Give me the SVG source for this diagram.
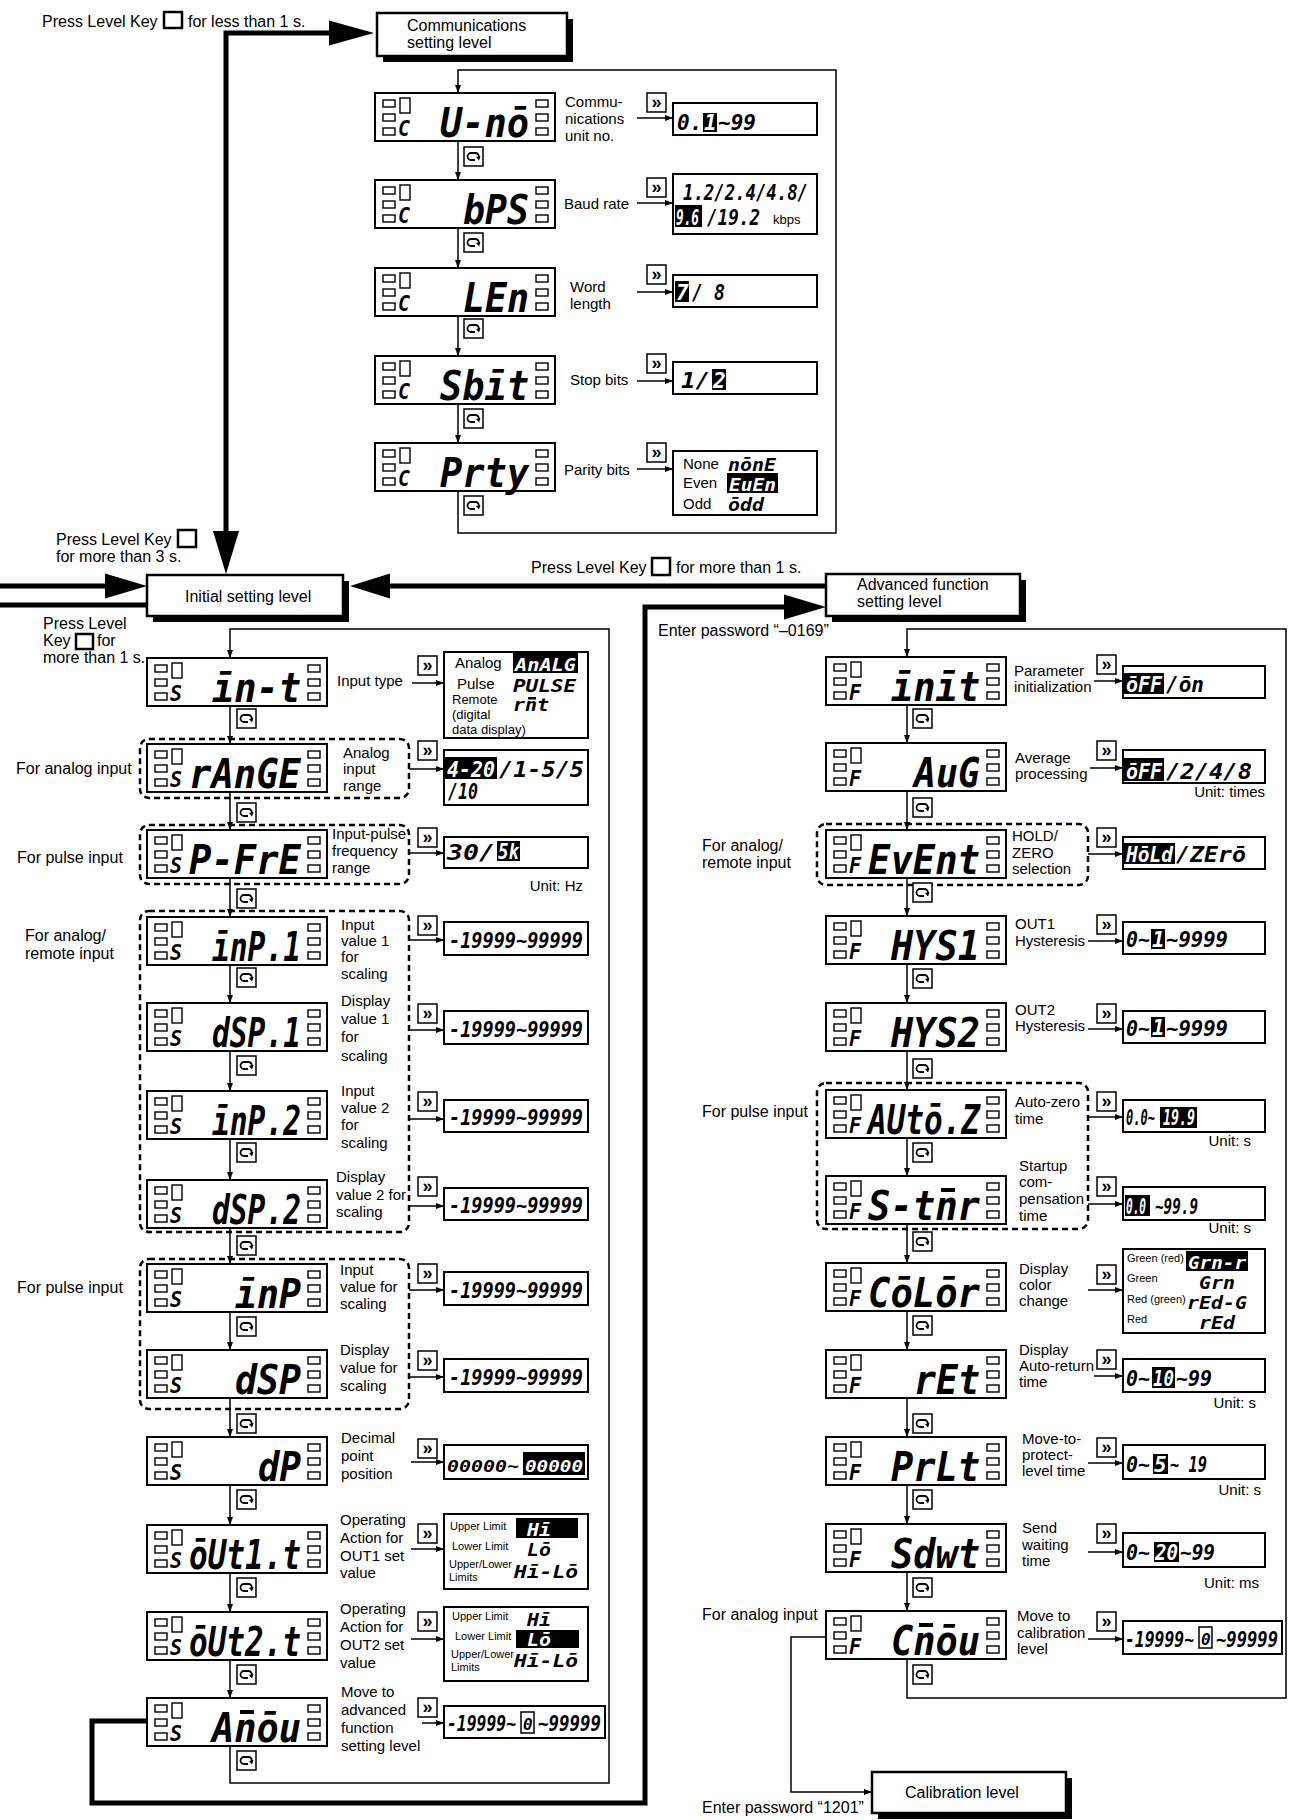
<svg xmlns="http://www.w3.org/2000/svg" xmlns:xlink="http://www.w3.org/1999/xlink" width="1289" height="1820" viewBox="0 0 1289 1820">
<style>
.t{font-family:"Liberation Sans",Arial,sans-serif;font-size:15px;fill:#000}
.tb{font-size:16px}
.sm{font-size:11px}
.md{font-size:13px}
.seg{font-family:"DejaVu Sans Mono",monospace;font-weight:bold;font-style:oblique;font-size:40px;fill:#000}
.slot{font-family:"DejaVu Sans Mono",monospace;font-weight:bold;font-style:oblique;font-size:21px;fill:#000}
.v{font-family:"DejaVu Sans Mono",monospace;font-weight:bold;font-style:oblique;font-size:21px;fill:#000}
.vs{font-size:18px}
.w{fill:#fff}
.ln{fill:none;stroke:#000;stroke-width:1.5}
.th{fill:none;stroke:#000;stroke-width:5}
.dg{fill:none;stroke:#000;stroke-width:2.5;stroke-dasharray:6 4}
.bx{fill:#fff;stroke:#000;stroke-width:2}
.lvl{fill:#fff;stroke:#000;stroke-width:2.5}
.key{fill:none;stroke:#000;stroke-width:2.5}
</style>
<defs>
<marker id="ah" viewBox="0 0 8 6" refX="8" refY="3" markerWidth="8" markerHeight="6" markerUnits="userSpaceOnUse" orient="auto"><path d="M0,0 L8,3 L0,6 Z" fill="#000"/></marker>
<g id="disp">
<rect x="0" y="0" width="180" height="48" fill="#fff" stroke="#000" stroke-width="2"/>
<g fill="none" stroke="#000" stroke-width="1.4">
<rect x="8" y="7" width="12" height="7"/><rect x="8" y="21" width="12" height="7"/><rect x="8" y="35" width="12" height="7"/>
<rect x="25" y="5" width="10" height="15"/>
<rect x="161" y="7" width="12" height="7"/><rect x="161" y="21" width="12" height="7"/><rect x="161" y="35" width="12" height="7"/>
</g></g>
<g id="rot"><rect x="0" y="0" width="19" height="19" fill="#fff" stroke="#000" stroke-width="1.5"/><path d="M11,13 H7 A3.5,3.5 0 0 1 7,6 H12 A3.5,3.5 0 0 1 14.5,11" fill="none" stroke="#000" stroke-width="1.8"/><path d="M12,10 L15,13.5 L16.5,9 Z" fill="#000"/></g>
<g id="ff"><rect x="0" y="0" width="19" height="19" fill="#fff" stroke="#000" stroke-width="1.5"/><text x="9.5" y="15" text-anchor="middle" style="font-family:'Liberation Sans',Arial,sans-serif;font-weight:bold;font-size:18px">»</text></g>
</defs>
<rect width="1289" height="1820" fill="#fff"/>

<!-- connectors -->
<g id="connectors">
<path class="th" d="M226,531 V33 H330"/>
<polygon points="374,33 329,20.5 329,45.5"/>
<polygon points="226,574 213,531 239,531"/>
<path class="th" d="M0,586 H106"/>
<polygon points="147,586 105,573.5 105,598.5"/>
<path class="th" d="M0,605 H147"/>
<path class="th" d="M826,586 H389"/>
<polygon points="350,586 390,573.5 390,598.5"/>
<path class="th" d="M147,1721 H92 V1803 H645 V607 H785"/>
<polygon points="826,607 784,594.5 784,619.5"/>
<path class="ln" d="M458,491 V533 H836 V70 H458 V93" marker-end="url(#ah)"/>
<path class="ln" d="M458,141 V180" marker-end="url(#ah)"/>
<path class="ln" d="M458,228 V268" marker-end="url(#ah)"/>
<path class="ln" d="M458,316 V356" marker-end="url(#ah)"/>
<path class="ln" d="M458,404 V443" marker-end="url(#ah)"/>
<path class="ln" d="M637,118 H673" marker-end="url(#ah)"/>
<path class="ln" d="M637,203 H673" marker-end="url(#ah)"/>
<path class="ln" d="M637,292 H673" marker-end="url(#ah)"/>
<path class="ln" d="M637,381 H673" marker-end="url(#ah)"/>
<path class="ln" d="M637,469 H673" marker-end="url(#ah)"/>
<path class="ln" d="M230,1746 V1783 H609 V629 H230 V658" marker-end="url(#ah)"/>
<path class="ln" d="M230,706 V744" marker-end="url(#ah)"/>
<path class="ln" d="M230,792 V830" marker-end="url(#ah)"/>
<path class="ln" d="M230,878 V917" marker-end="url(#ah)"/>
<path class="ln" d="M230,965 V1003" marker-end="url(#ah)"/>
<path class="ln" d="M230,1051 V1091" marker-end="url(#ah)"/>
<path class="ln" d="M230,1139 V1180" marker-end="url(#ah)"/>
<path class="ln" d="M230,1228 V1264" marker-end="url(#ah)"/>
<path class="ln" d="M230,1312 V1350" marker-end="url(#ah)"/>
<path class="ln" d="M230,1398 V1437" marker-end="url(#ah)"/>
<path class="ln" d="M230,1485 V1525" marker-end="url(#ah)"/>
<path class="ln" d="M230,1573 V1612" marker-end="url(#ah)"/>
<path class="ln" d="M230,1660 V1698" marker-end="url(#ah)"/>
<path class="ln" d="M412,683 H444" marker-end="url(#ah)"/>
<path class="ln" d="M409,769 H444" marker-end="url(#ah)"/>
<path class="ln" d="M409,853 H444" marker-end="url(#ah)"/>
<path class="ln" d="M409,940 H444" marker-end="url(#ah)"/>
<path class="ln" d="M409,1030 H444" marker-end="url(#ah)"/>
<path class="ln" d="M409,1119 H444" marker-end="url(#ah)"/>
<path class="ln" d="M409,1206 H444" marker-end="url(#ah)"/>
<path class="ln" d="M409,1290 H444" marker-end="url(#ah)"/>
<path class="ln" d="M409,1377 H444" marker-end="url(#ah)"/>
<path class="ln" d="M411,1462 H444" marker-end="url(#ah)"/>
<path class="ln" d="M411,1549 H444" marker-end="url(#ah)"/>
<path class="ln" d="M411,1639 H444" marker-end="url(#ah)"/>
<path class="ln" d="M422,1723 H444" marker-end="url(#ah)"/>
<path class="ln" d="M907,1659 V1698 H1286 V629 H907 V657" marker-end="url(#ah)"/>
<path class="ln" d="M907,705 V743" marker-end="url(#ah)"/>
<path class="ln" d="M907,791 V830" marker-end="url(#ah)"/>
<path class="ln" d="M907,878 V916" marker-end="url(#ah)"/>
<path class="ln" d="M907,964 V1003" marker-end="url(#ah)"/>
<path class="ln" d="M907,1051 V1090" marker-end="url(#ah)"/>
<path class="ln" d="M907,1138 V1176" marker-end="url(#ah)"/>
<path class="ln" d="M907,1224 V1263" marker-end="url(#ah)"/>
<path class="ln" d="M907,1311 V1350" marker-end="url(#ah)"/>
<path class="ln" d="M907,1398 V1437" marker-end="url(#ah)"/>
<path class="ln" d="M907,1485 V1524" marker-end="url(#ah)"/>
<path class="ln" d="M907,1572 V1611" marker-end="url(#ah)"/>
<path class="ln" d="M1094,681 H1123" marker-end="url(#ah)"/>
<path class="ln" d="M1090,768 H1123" marker-end="url(#ah)"/>
<path class="ln" d="M1088,854 H1123" marker-end="url(#ah)"/>
<path class="ln" d="M1088,941 H1123" marker-end="url(#ah)"/>
<path class="ln" d="M1088,1029 H1123" marker-end="url(#ah)"/>
<path class="ln" d="M1088,1117 H1123" marker-end="url(#ah)"/>
<path class="ln" d="M1088,1204 H1123" marker-end="url(#ah)"/>
<path class="ln" d="M1088,1290 H1123" marker-end="url(#ah)"/>
<path class="ln" d="M1094,1376 H1123" marker-end="url(#ah)"/>
<path class="ln" d="M1088,1463 H1123" marker-end="url(#ah)"/>
<path class="ln" d="M1088,1552 H1123" marker-end="url(#ah)"/>
<path class="ln" d="M1088,1639 H1123" marker-end="url(#ah)"/>
<path class="ln" stroke-width="2" d="M826,1637 H791 V1792 H872" marker-end="url(#ah)"/>
</g>

<!-- notes -->
<g id="notes">
<text class="t tb" x="42" y="27">Press Level Key</text><rect class="key" x="164" y="12" width="18" height="16"/><text class="t tb" x="188" y="27">for less than 1 s.</text>
<text class="t tb" x="56" y="545">Press Level Key</text><rect class="key" x="178" y="530" width="18" height="17"/><text class="t tb" x="56" y="562">for more than 3 s.</text>
<text class="t tb" x="531" y="573">Press Level Key</text><rect class="key" x="652" y="558" width="18" height="17"/><text class="t tb" x="676" y="573">for more than 1 s.</text>
<text class="t tb" x="43" y="629">Press Level</text><text class="t tb" x="43" y="646">Key</text><rect class="key" x="76" y="634" width="17" height="15"/><text class="t tb" x="97" y="646">for</text><text class="t tb" x="43" y="663">more than 1 s.</text>
<text class="t tb" x="16" y="774">For analog input</text>
<text class="t tb" x="17" y="863">For pulse input</text>
<text class="t tb" x="25" y="941">For analog/</text><text class="t tb" x="25" y="959">remote input</text>
<text class="t tb" x="17" y="1293">For pulse input</text>
<text class="t tb" x="658" y="636">Enter password “–0169”</text>
<text class="t tb" x="702" y="851">For analog/</text><text class="t tb" x="702" y="868">remote input</text>
<text class="t tb" x="702" y="1117">For pulse input</text>
<text class="t tb" x="702" y="1620">For analog input</text>
<text class="t tb" x="702" y="1813">Enter password “1201”</text>
</g>

<!-- level boxes -->
<g id="lvl-comm"><rect x="383" y="19" width="190" height="43"/><rect class="lvl" x="377" y="13" width="190" height="43"/><text class="t tb" x="407" y="31">Communications</text><text class="t tb" x="407" y="48">setting level</text></g>
<g id="lvl-init"><rect x="153" y="581" width="196" height="41"/><rect class="lvl" x="147" y="575" width="196" height="41"/><text class="t tb" x="185" y="602">Initial setting level</text></g>
<g id="lvl-adv"><rect x="832" y="580" width="194" height="42"/><rect class="lvl" x="826" y="574" width="194" height="42"/><text class="t tb" x="857" y="590">Advanced function</text><text class="t tb" x="857" y="607">setting level</text></g>
<g id="lvl-cal"><rect x="878" y="1778" width="194" height="41"/><rect class="lvl" x="872" y="1772" width="194" height="41"/><text class="t tb" x="905" y="1798">Calibration level</text></g>

<!-- dashed groups -->
<g id="groups">
<rect class="dg" x="140" y="739" width="269" height="59" rx="9"/>
<rect class="dg" x="140" y="825" width="269" height="59" rx="9"/>
<rect class="dg" x="140" y="911" width="269" height="321" rx="9"/>
<rect class="dg" x="140" y="1259" width="269" height="150" rx="9"/>
<rect class="dg" x="817" y="824" width="271" height="61" rx="9"/>
<rect class="dg" x="817" y="1083" width="271" height="146" rx="9"/>
</g>

<!-- communications displays -->
<g id="d-uno"><use href="#disp" x="375" y="93"/><text class="slot" x="398" y="136" textLength="12" lengthAdjust="spacingAndGlyphs">C</text><text class="seg" x="440" y="137" textLength="89" lengthAdjust="spacingAndGlyphs">U-nō</text><use href="#rot" x="464" y="147"/><text class="t" x="565" y="107">Commu-</text><text class="t" x="565" y="124">nications</text><text class="t" x="565" y="141">unit no.</text></g>
<g id="d-bps"><use href="#disp" x="375" y="180"/><text class="slot" x="398" y="223" textLength="12" lengthAdjust="spacingAndGlyphs">C</text><text class="seg" x="463" y="224" textLength="66" lengthAdjust="spacingAndGlyphs">bPS</text><use href="#rot" x="464" y="233"/><text class="t" x="564" y="209">Baud rate</text></g>
<g id="d-len"><use href="#disp" x="375" y="268"/><text class="slot" x="398" y="311" textLength="12" lengthAdjust="spacingAndGlyphs">C</text><text class="seg" x="463" y="312" textLength="66" lengthAdjust="spacingAndGlyphs">LEn</text><use href="#rot" x="464" y="319"/><text class="t" x="570" y="292">Word</text><text class="t" x="570" y="309">length</text></g>
<g id="d-sbit"><use href="#disp" x="375" y="356"/><text class="slot" x="398" y="399" textLength="12" lengthAdjust="spacingAndGlyphs">C</text><text class="seg" x="440" y="400" textLength="89" lengthAdjust="spacingAndGlyphs">Sbīt</text><use href="#rot" x="464" y="409"/><text class="t" x="570" y="385">Stop bits</text></g>
<g id="d-prty"><use href="#disp" x="375" y="443"/><text class="slot" x="398" y="486" textLength="12" lengthAdjust="spacingAndGlyphs">C</text><text class="seg" x="440" y="487" textLength="89" lengthAdjust="spacingAndGlyphs">Prty</text><use href="#rot" x="464" y="496"/><text class="t" x="564" y="475">Parity bits</text></g>

<!-- communications values -->
<g id="v-uno"><use href="#ff" x="647" y="93"/><rect class="bx" x="673" y="103" width="144" height="32"/><text class="v" x="677" y="130">0.</text><rect x="703" y="113" width="14" height="19"/><text class="v w" x="704" y="130">1</text><text class="v" x="718" y="130">~99</text></g>
<g id="v-bps"><use href="#ff" x="647" y="178"/><rect class="bx" x="673" y="174" width="144" height="60"/><text class="v" x="683" y="200" textLength="125" lengthAdjust="spacingAndGlyphs">1.2/2.4/4.8/</text><rect x="675" y="205" width="27" height="22"/><text class="v w" x="676" y="225" textLength="23" lengthAdjust="spacingAndGlyphs">9.6</text><text class="v" x="707" y="225" textLength="53" lengthAdjust="spacingAndGlyphs">/19.2</text><text class="t md" x="773" y="224">kbps</text></g>
<g id="v-len"><use href="#ff" x="647" y="265"/><rect class="bx" x="673" y="275" width="144" height="32"/><rect x="675" y="281" width="14" height="21"/><text class="v w" x="676" y="300">7</text><text class="v" x="692" y="300" textLength="33" lengthAdjust="spacingAndGlyphs">/ 8</text></g>
<g id="v-sbit"><use href="#ff" x="647" y="354"/><rect class="bx" x="673" y="362" width="144" height="32"/><text class="v" x="681" y="388" textLength="29" lengthAdjust="spacingAndGlyphs">1/</text><rect x="712" y="369" width="14" height="21"/><text class="v w" x="713" y="388">2</text></g>
<g id="v-prty"><use href="#ff" x="647" y="443"/><rect class="bx" x="673" y="451" width="144" height="64"/><text class="t" x="683" y="469">None</text><text class="t" x="683" y="488">Even</text><text class="t" x="683" y="509">Odd</text><text class="v vs" x="728" y="471" textLength="48" lengthAdjust="spacingAndGlyphs">nōnE</text><rect x="727" y="473" width="51" height="20"/><text class="v vs w" x="729" y="491" textLength="47" lengthAdjust="spacingAndGlyphs">EuEn</text><text class="v vs" x="728" y="511" textLength="36" lengthAdjust="spacingAndGlyphs">ōdd</text></g>

<!-- initial setting displays -->
<g id="d-int"><use href="#disp" x="147" y="658"/><text class="slot" x="170" y="701" textLength="12" lengthAdjust="spacingAndGlyphs">S</text><text class="seg" x="212" y="702" textLength="89" lengthAdjust="spacingAndGlyphs">īn-t</text><use href="#rot" x="237" y="709"/><text class="t" x="337" y="686">Input type</text></g>
<g id="d-range"><use href="#disp" x="147" y="744"/><text class="slot" x="170" y="787" textLength="12" lengthAdjust="spacingAndGlyphs">S</text><text class="seg" x="189" y="788" textLength="112" lengthAdjust="spacingAndGlyphs">rAnGE</text><use href="#rot" x="237" y="803"/><text class="t" x="343" y="758">Analog</text><text class="t" x="343" y="774">input</text><text class="t" x="343" y="791">range</text></g>
<g id="d-pfre"><use href="#disp" x="147" y="830"/><text class="slot" x="170" y="873" textLength="12" lengthAdjust="spacingAndGlyphs">S</text><text class="seg" x="189" y="874" textLength="112" lengthAdjust="spacingAndGlyphs">P-FrE</text><use href="#rot" x="237" y="889"/><text class="t" x="332" y="839">Input-pulse</text><text class="t" x="332" y="856">frequency</text><text class="t" x="332" y="873">range</text></g>
<g id="d-inp1"><use href="#disp" x="147" y="917"/><text class="slot" x="170" y="960" textLength="12" lengthAdjust="spacingAndGlyphs">S</text><text class="seg" x="212" y="961" textLength="89" lengthAdjust="spacingAndGlyphs">īnP.1</text><use href="#rot" x="237" y="968"/><text class="t" x="341" y="930">Input</text><text class="t" x="341" y="946">value 1</text><text class="t" x="341" y="962">for</text><text class="t" x="341" y="979">scaling</text></g>
<g id="d-dsp1"><use href="#disp" x="147" y="1003"/><text class="slot" x="170" y="1046" textLength="12" lengthAdjust="spacingAndGlyphs">S</text><text class="seg" x="212" y="1047" textLength="89" lengthAdjust="spacingAndGlyphs">dSP.1</text><use href="#rot" x="237" y="1056"/><text class="t" x="341" y="1006">Display</text><text class="t" x="341" y="1024">value 1</text><text class="t" x="341" y="1042">for</text><text class="t" x="341" y="1061">scaling</text></g>
<g id="d-inp2"><use href="#disp" x="147" y="1091"/><text class="slot" x="170" y="1134" textLength="12" lengthAdjust="spacingAndGlyphs">S</text><text class="seg" x="212" y="1135" textLength="89" lengthAdjust="spacingAndGlyphs">īnP.2</text><use href="#rot" x="237" y="1143"/><text class="t" x="341" y="1096">Input</text><text class="t" x="341" y="1113">value 2</text><text class="t" x="341" y="1130">for</text><text class="t" x="341" y="1148">scaling</text></g>
<g id="d-dsp2"><use href="#disp" x="147" y="1180"/><text class="slot" x="170" y="1223" textLength="12" lengthAdjust="spacingAndGlyphs">S</text><text class="seg" x="212" y="1224" textLength="89" lengthAdjust="spacingAndGlyphs">dSP.2</text><use href="#rot" x="237" y="1236"/><text class="t" x="336" y="1182">Display</text><text class="t" x="336" y="1200">value 2 for</text><text class="t" x="336" y="1217">scaling</text></g>
<g id="d-inp"><use href="#disp" x="147" y="1264"/><text class="slot" x="170" y="1307" textLength="12" lengthAdjust="spacingAndGlyphs">S</text><text class="seg" x="235" y="1308" textLength="66" lengthAdjust="spacingAndGlyphs">īnP</text><use href="#rot" x="237" y="1317"/><text class="t" x="340" y="1275">Input</text><text class="t" x="340" y="1292">value for</text><text class="t" x="340" y="1309">scaling</text></g>
<g id="d-dsp"><use href="#disp" x="147" y="1350"/><text class="slot" x="170" y="1393" textLength="12" lengthAdjust="spacingAndGlyphs">S</text><text class="seg" x="235" y="1394" textLength="66" lengthAdjust="spacingAndGlyphs">dSP</text><use href="#rot" x="237" y="1414"/><text class="t" x="340" y="1355">Display</text><text class="t" x="340" y="1373">value for</text><text class="t" x="340" y="1391">scaling</text></g>
<g id="d-dp"><use href="#disp" x="147" y="1437"/><text class="slot" x="170" y="1480" textLength="12" lengthAdjust="spacingAndGlyphs">S</text><text class="seg" x="258" y="1481" textLength="43" lengthAdjust="spacingAndGlyphs">dP</text><use href="#rot" x="237" y="1490"/><text class="t" x="341" y="1443">Decimal</text><text class="t" x="341" y="1461">point</text><text class="t" x="341" y="1479">position</text></g>
<g id="d-out1"><use href="#disp" x="147" y="1525"/><text class="slot" x="170" y="1568" textLength="12" lengthAdjust="spacingAndGlyphs">S</text><text class="seg" x="189" y="1569" textLength="112" lengthAdjust="spacingAndGlyphs">ōUt1.t</text><use href="#rot" x="237" y="1578"/><text class="t" x="340" y="1525">Operating</text><text class="t" x="340" y="1543">Action for</text><text class="t" x="340" y="1561">OUT1 set</text><text class="t" x="340" y="1578">value</text></g>
<g id="d-out2"><use href="#disp" x="147" y="1612"/><text class="slot" x="170" y="1655" textLength="12" lengthAdjust="spacingAndGlyphs">S</text><text class="seg" x="189" y="1656" textLength="112" lengthAdjust="spacingAndGlyphs">ōUt2.t</text><use href="#rot" x="237" y="1665"/><text class="t" x="340" y="1614">Operating</text><text class="t" x="340" y="1632">Action for</text><text class="t" x="340" y="1650">OUT2 set</text><text class="t" x="340" y="1668">value</text></g>
<g id="d-amov"><use href="#disp" x="147" y="1698"/><text class="slot" x="170" y="1741" textLength="12" lengthAdjust="spacingAndGlyphs">S</text><text class="seg" x="212" y="1742" textLength="89" lengthAdjust="spacingAndGlyphs">Anōu</text><rect x="240" y="1710" width="14" height="4"/><use href="#rot" x="237" y="1751"/><text class="t" x="341" y="1697">Move to</text><text class="t" x="341" y="1715">advanced</text><text class="t" x="341" y="1733">function</text><text class="t" x="341" y="1751">setting level</text></g>

<!-- initial setting values -->
<g id="v-int"><use href="#ff" x="418" y="656"/><rect class="bx" x="444" y="652" width="144" height="86"/><text class="t" x="455" y="668">Analog</text><text class="t" x="457" y="689">Pulse</text><text class="t md" x="452" y="704">Remote</text><text class="t md" x="452" y="719">(digital</text><text class="t md" x="452" y="734">data display)</text><rect x="513" y="653" width="65" height="20"/><text class="v vs w" x="515" y="671" textLength="61" lengthAdjust="spacingAndGlyphs">AnALG</text><text class="v vs" x="513" y="692" textLength="63" lengthAdjust="spacingAndGlyphs">PULSE</text><text class="v vs" x="513" y="711" textLength="36" lengthAdjust="spacingAndGlyphs">rnt</text><rect x="528" y="697" width="8" height="2.5"/></g>
<g id="v-range"><use href="#ff" x="418" y="741"/><rect class="bx" x="444" y="750" width="144" height="55"/><rect x="445" y="757" width="52" height="22"/><text class="v w" x="447" y="777" textLength="48" lengthAdjust="spacingAndGlyphs">4-20</text><text class="v" x="499" y="777" textLength="85" lengthAdjust="spacingAndGlyphs">/1-5/5</text><text class="v" x="448" y="799" textLength="30" lengthAdjust="spacingAndGlyphs">/10</text></g>
<g id="v-pfre"><use href="#ff" x="418" y="828"/><rect class="bx" x="444" y="837" width="144" height="31"/><text class="v" x="447" y="860" textLength="48" lengthAdjust="spacingAndGlyphs">30/</text><rect x="497" y="841" width="23" height="20"/><text class="v w" x="498" y="859" textLength="21" lengthAdjust="spacingAndGlyphs">5k</text><text class="t" x="583" y="891" text-anchor="end">Unit: Hz</text></g>
<g id="v-inp1"><use href="#ff" x="418" y="916"/><rect class="bx" x="444" y="922" width="144" height="33"/><text class="v" x="449" y="948" textLength="134" lengthAdjust="spacingAndGlyphs">-19999~99999</text></g>
<g id="v-dsp1"><use href="#ff" x="418" y="1004"/><rect class="bx" x="444" y="1011" width="144" height="33"/><text class="v" x="449" y="1037" textLength="134" lengthAdjust="spacingAndGlyphs">-19999~99999</text></g>
<g id="v-inp2"><use href="#ff" x="418" y="1092"/><rect class="bx" x="444" y="1100" width="144" height="32"/><text class="v" x="449" y="1125" textLength="134" lengthAdjust="spacingAndGlyphs">-19999~99999</text></g>
<g id="v-dsp2"><use href="#ff" x="418" y="1177"/><rect class="bx" x="444" y="1188" width="144" height="32"/><text class="v" x="449" y="1213" textLength="134" lengthAdjust="spacingAndGlyphs">-19999~99999</text></g>
<g id="v-inp"><use href="#ff" x="418" y="1264"/><rect class="bx" x="444" y="1272" width="144" height="33"/><text class="v" x="449" y="1298" textLength="134" lengthAdjust="spacingAndGlyphs">-19999~99999</text></g>
<g id="v-dsp"><use href="#ff" x="418" y="1351"/><rect class="bx" x="444" y="1359" width="144" height="33"/><text class="v" x="449" y="1385" textLength="134" lengthAdjust="spacingAndGlyphs">-19999~99999</text></g>
<g id="v-dp"><use href="#ff" x="418" y="1439"/><rect class="bx" x="444" y="1445" width="144" height="34"/><text class="v" x="447" y="1472" style="font-size:15px" textLength="72" lengthAdjust="spacingAndGlyphs">00000~</text><rect x="523" y="1452" width="62" height="23"/><text class="v w" x="525" y="1472" style="font-size:15px" textLength="58" lengthAdjust="spacingAndGlyphs">00000</text></g>
<g id="v-out1"><use href="#ff" x="418" y="1524"/><rect class="bx" x="444" y="1514" width="144" height="75"/><text class="t sm" x="450" y="1530">Upper Limit</text><text class="t sm" x="452" y="1550">Lower Limit</text><text class="t sm" x="449" y="1568">Upper/Lower</text><text class="t sm" x="449" y="1581">Limits</text><rect x="516" y="1518" width="62" height="20"/><text class="v vs w" x="527" y="1536" textLength="24" lengthAdjust="spacingAndGlyphs">Hī</text><text class="v vs" x="527" y="1556" textLength="24" lengthAdjust="spacingAndGlyphs">Lō</text><text class="v vs" x="514" y="1578" textLength="64" lengthAdjust="spacingAndGlyphs">Hī-Lō</text></g>
<g id="v-out2"><use href="#ff" x="418" y="1612"/><rect class="bx" x="444" y="1607" width="144" height="74"/><text class="t sm" x="452" y="1620">Upper Limit</text><text class="t sm" x="455" y="1640">Lower Limit</text><text class="t sm" x="451" y="1658">Upper/Lower</text><text class="t sm" x="451" y="1671">Limits</text><text class="v vs" x="527" y="1626" textLength="24" lengthAdjust="spacingAndGlyphs">Hī</text><rect x="516" y="1630" width="63" height="18"/><text class="v vs w" x="527" y="1646" textLength="24" lengthAdjust="spacingAndGlyphs">Lō</text><text class="v vs" x="514" y="1667" textLength="64" lengthAdjust="spacingAndGlyphs">Hī-Lō</text></g>
<g id="v-amov"><use href="#ff" x="418" y="1698"/><rect class="bx" x="444" y="1706" width="161" height="32"/><text class="v" x="447" y="1731" textLength="69" lengthAdjust="spacingAndGlyphs">-19999~</text><rect x="521" y="1712" width="13" height="21" fill="none" stroke="#000" stroke-width="1.5"/><text class="v" x="523" y="1730" style="font-size:16px">0</text><text class="v" x="538" y="1731" textLength="63" lengthAdjust="spacingAndGlyphs">~99999</text></g>

<!-- advanced displays -->
<g id="d-init"><use href="#disp" x="826" y="657"/><text class="slot" x="849" y="700" textLength="12" lengthAdjust="spacingAndGlyphs">F</text><text class="seg" x="891" y="701" textLength="89" lengthAdjust="spacingAndGlyphs">īnīt</text><use href="#rot" x="913" y="709"/><text class="t" x="1014" y="676">Parameter</text><text class="t" x="1014" y="692">initialization</text></g>
<g id="d-avg"><use href="#disp" x="826" y="743"/><text class="slot" x="849" y="786" textLength="12" lengthAdjust="spacingAndGlyphs">F</text><text class="seg" x="914" y="787" textLength="66" lengthAdjust="spacingAndGlyphs">AuG</text><use href="#rot" x="913" y="798"/><text class="t" x="1015" y="763">Average</text><text class="t" x="1015" y="779">processing</text></g>
<g id="d-event"><use href="#disp" x="826" y="830"/><text class="slot" x="849" y="873" textLength="12" lengthAdjust="spacingAndGlyphs">F</text><text class="seg" x="868" y="874" textLength="112" lengthAdjust="spacingAndGlyphs">EvEnt</text><use href="#rot" x="913" y="883"/><text class="t" x="1012" y="841">HOLD/</text><text class="t" x="1012" y="858">ZERO</text><text class="t" x="1012" y="874">selection</text></g>
<g id="d-hys1"><use href="#disp" x="826" y="916"/><text class="slot" x="849" y="959" textLength="12" lengthAdjust="spacingAndGlyphs">F</text><text class="seg" x="891" y="960" textLength="89" lengthAdjust="spacingAndGlyphs">HYS1</text><use href="#rot" x="913" y="969"/><text class="t" x="1015" y="929">OUT1</text><text class="t" x="1015" y="946">Hysteresis</text></g>
<g id="d-hys2"><use href="#disp" x="826" y="1003"/><text class="slot" x="849" y="1046" textLength="12" lengthAdjust="spacingAndGlyphs">F</text><text class="seg" x="891" y="1047" textLength="89" lengthAdjust="spacingAndGlyphs">HYS2</text><use href="#rot" x="913" y="1059"/><text class="t" x="1015" y="1015">OUT2</text><text class="t" x="1015" y="1031">Hysteresis</text></g>
<g id="d-autoz"><use href="#disp" x="826" y="1090"/><text class="slot" x="849" y="1133" textLength="12" lengthAdjust="spacingAndGlyphs">F</text><text class="seg" x="868" y="1134" textLength="112" lengthAdjust="spacingAndGlyphs">AUtō.Z</text><use href="#rot" x="913" y="1143"/><text class="t" x="1015" y="1107">Auto-zero</text><text class="t" x="1015" y="1124">time</text></g>
<g id="d-stmr"><use href="#disp" x="826" y="1176"/><text class="slot" x="849" y="1219" textLength="12" lengthAdjust="spacingAndGlyphs">F</text><text class="seg" x="868" y="1220" textLength="112" lengthAdjust="spacingAndGlyphs">S-tnr</text><rect x="941" y="1188" width="14" height="4"/><use href="#rot" x="913" y="1232"/><text class="t" x="1019" y="1171">Startup</text><text class="t" x="1019" y="1187">com-</text><text class="t" x="1019" y="1204">pensation</text><text class="t" x="1019" y="1221">time</text></g>
<g id="d-color"><use href="#disp" x="826" y="1263"/><text class="slot" x="849" y="1306" textLength="12" lengthAdjust="spacingAndGlyphs">F</text><text class="seg" x="868" y="1307" textLength="112" lengthAdjust="spacingAndGlyphs">CōLōr</text><use href="#rot" x="913" y="1316"/><text class="t" x="1019" y="1274">Display</text><text class="t" x="1019" y="1290">color</text><text class="t" x="1019" y="1306">change</text></g>
<g id="d-ret"><use href="#disp" x="826" y="1350"/><text class="slot" x="849" y="1393" textLength="12" lengthAdjust="spacingAndGlyphs">F</text><text class="seg" x="914" y="1394" textLength="66" lengthAdjust="spacingAndGlyphs">rEt</text><use href="#rot" x="913" y="1414"/><text class="t" x="1019" y="1355">Display</text><text class="t" x="1019" y="1371">Auto-return</text><text class="t" x="1019" y="1387">time</text></g>
<g id="d-prlt"><use href="#disp" x="826" y="1437"/><text class="slot" x="849" y="1480" textLength="12" lengthAdjust="spacingAndGlyphs">F</text><text class="seg" x="891" y="1481" textLength="89" lengthAdjust="spacingAndGlyphs">PrLt</text><use href="#rot" x="913" y="1490"/><text class="t" x="1022" y="1444">Move-to-</text><text class="t" x="1022" y="1460">protect-</text><text class="t" x="1022" y="1476">level time</text></g>
<g id="d-sdwt"><use href="#disp" x="826" y="1524"/><text class="slot" x="849" y="1567" textLength="12" lengthAdjust="spacingAndGlyphs">F</text><text class="seg" x="891" y="1568" textLength="89" lengthAdjust="spacingAndGlyphs">Sdwt</text><use href="#rot" x="913" y="1578"/><text class="t" x="1022" y="1533">Send</text><text class="t" x="1022" y="1550">waiting</text><text class="t" x="1022" y="1566">time</text></g>
<g id="d-cmov"><use href="#disp" x="826" y="1611"/><text class="slot" x="849" y="1654" textLength="12" lengthAdjust="spacingAndGlyphs">F</text><text class="seg" x="891" y="1655" textLength="89" lengthAdjust="spacingAndGlyphs">Cnōu</text><rect x="919" y="1623" width="14" height="4"/><use href="#rot" x="913" y="1665"/><text class="t" x="1017" y="1621">Move to</text><text class="t" x="1017" y="1638">calibration</text><text class="t" x="1017" y="1654">level</text></g>

<!-- advanced values -->
<g id="v-init"><use href="#ff" x="1097" y="655"/><rect class="bx" x="1123" y="666" width="142" height="32"/><rect x="1124" y="673" width="40" height="21"/><text class="v w" x="1126" y="692" textLength="36" lengthAdjust="spacingAndGlyphs">ōFF</text><text class="v" x="1166" y="692" textLength="38" lengthAdjust="spacingAndGlyphs">/ōn</text></g>
<g id="v-avg"><use href="#ff" x="1097" y="741"/><rect class="bx" x="1123" y="750" width="142" height="33"/><rect x="1124" y="758" width="40" height="23"/><text class="v w" x="1126" y="779" textLength="36" lengthAdjust="spacingAndGlyphs">ōFF</text><text class="v" x="1166" y="779" textLength="86" lengthAdjust="spacingAndGlyphs">/2/4/8</text><text class="t" x="1265" y="797" text-anchor="end">Unit: times</text></g>
<g id="v-event"><use href="#ff" x="1097" y="828"/><rect class="bx" x="1123" y="837" width="142" height="32"/><rect x="1124" y="843" width="51" height="21"/><text class="v w" x="1126" y="862" textLength="47" lengthAdjust="spacingAndGlyphs">HōLd</text><text class="v" x="1176" y="862" textLength="70" lengthAdjust="spacingAndGlyphs">/ZErō</text></g>
<g id="v-hys1"><use href="#ff" x="1097" y="915"/><rect class="bx" x="1123" y="922" width="142" height="32"/><text class="v" x="1126" y="947" textLength="24" lengthAdjust="spacingAndGlyphs">0~</text><rect x="1151" y="929" width="14" height="20"/><text class="v w" x="1152" y="947">1</text><text class="v" x="1166" y="947" textLength="62" lengthAdjust="spacingAndGlyphs">~9999</text></g>
<g id="v-hys2"><use href="#ff" x="1097" y="1004"/><rect class="bx" x="1123" y="1011" width="142" height="32"/><text class="v" x="1126" y="1036" textLength="24" lengthAdjust="spacingAndGlyphs">0~</text><rect x="1151" y="1017" width="14" height="20"/><text class="v w" x="1152" y="1035">1</text><text class="v" x="1166" y="1036" textLength="62" lengthAdjust="spacingAndGlyphs">~9999</text></g>
<g id="v-autoz"><use href="#ff" x="1097" y="1092"/><rect class="bx" x="1123" y="1100" width="142" height="32"/><text class="v" x="1126" y="1125" textLength="29" lengthAdjust="spacingAndGlyphs">0.0~</text><rect x="1160" y="1107" width="37" height="21"/><text class="v w" x="1163" y="1125" textLength="32" lengthAdjust="spacingAndGlyphs">19.9</text><text class="t" x="1251" y="1146" text-anchor="end">Unit: s</text></g>
<g id="v-stmr"><use href="#ff" x="1097" y="1177"/><rect class="bx" x="1123" y="1187" width="142" height="33"/><rect x="1125" y="1195" width="25" height="21"/><text class="v w" x="1126" y="1214" textLength="20" lengthAdjust="spacingAndGlyphs">0.0</text><text class="v" x="1155" y="1214" textLength="43" lengthAdjust="spacingAndGlyphs">~99.9</text><text class="t" x="1251" y="1233" text-anchor="end">Unit: s</text></g>
<g id="v-color"><use href="#ff" x="1097" y="1265"/><rect class="bx" x="1123" y="1249" width="142" height="84"/><text class="t sm" x="1127" y="1262">Green (red)</text><text class="t sm" x="1127" y="1282">Green</text><text class="t sm" x="1127" y="1303">Red (green)</text><text class="t sm" x="1127" y="1323">Red</text><rect x="1186" y="1251" width="62" height="20"/><text class="v vs w" x="1188" y="1269" textLength="58" lengthAdjust="spacingAndGlyphs">Grn-r</text><text class="v vs" x="1199" y="1289" textLength="36" lengthAdjust="spacingAndGlyphs">Grn</text><text class="v vs" x="1187" y="1309" textLength="60" lengthAdjust="spacingAndGlyphs">rEd-G</text><text class="v vs" x="1199" y="1329" textLength="36" lengthAdjust="spacingAndGlyphs">rEd</text></g>
<g id="v-ret"><use href="#ff" x="1097" y="1350"/><rect class="bx" x="1123" y="1359" width="142" height="33"/><text class="v" x="1126" y="1386" textLength="24" lengthAdjust="spacingAndGlyphs">0~</text><rect x="1152" y="1367" width="23" height="21"/><text class="v w" x="1153" y="1386" textLength="21" lengthAdjust="spacingAndGlyphs">10</text><text class="v" x="1176" y="1386" textLength="36" lengthAdjust="spacingAndGlyphs">~99</text><text class="t" x="1256" y="1408" text-anchor="end">Unit: s</text></g>
<g id="v-prlt"><use href="#ff" x="1097" y="1438"/><rect class="bx" x="1123" y="1445" width="142" height="34"/><text class="v" x="1126" y="1472" textLength="24" lengthAdjust="spacingAndGlyphs">0~</text><rect x="1153" y="1454" width="15" height="20"/><text class="v w" x="1154" y="1472">5</text><text class="v" x="1170" y="1472" textLength="37" lengthAdjust="spacingAndGlyphs">~ 19</text><text class="t" x="1261" y="1495" text-anchor="end">Unit: s</text></g>
<g id="v-sdwt"><use href="#ff" x="1097" y="1524"/><rect class="bx" x="1123" y="1533" width="142" height="34"/><text class="v" x="1126" y="1560" textLength="24" lengthAdjust="spacingAndGlyphs">0~</text><rect x="1154" y="1542" width="25" height="20"/><text class="v w" x="1155" y="1560" textLength="23" lengthAdjust="spacingAndGlyphs">20</text><text class="v" x="1180" y="1560" textLength="35" lengthAdjust="spacingAndGlyphs">~99</text><text class="t" x="1259" y="1588" text-anchor="end">Unit: ms</text></g>
<g id="v-cmov"><use href="#ff" x="1097" y="1612"/><rect class="bx" x="1123" y="1621" width="159" height="33"/><text class="v" x="1125" y="1647" textLength="69" lengthAdjust="spacingAndGlyphs">-19999~</text><rect x="1199" y="1627" width="13" height="21" fill="none" stroke="#000" stroke-width="1.5"/><text class="v" x="1201" y="1645" style="font-size:16px">0</text><text class="v" x="1216" y="1647" textLength="62" lengthAdjust="spacingAndGlyphs">~99999</text></g>
</svg>
